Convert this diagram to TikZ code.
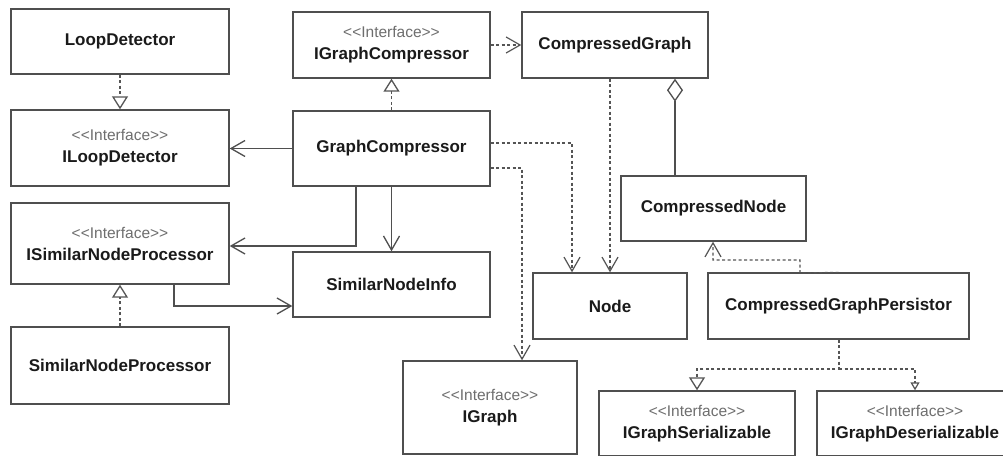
\documentclass[tikz,border=0pt]{standalone}
\usepackage{fontspec}
\setmainfont{Liberation Sans}
\usetikzlibrary{arrows.meta}
\definecolor{linec}{HTML}{4F4F4F}
\definecolor{dashc}{HTML}{555555}
\definecolor{txtc}{HTML}{1A1A1A}
\definecolor{stc}{HTML}{6E6E6E}
\newcommand\stereotxt{{\mdseries\color{stc}\fontsize{15.5}{22}\selectfont <{}<Interface>{}>}}
\begin{document}
\begin{tikzpicture}[x=1pt,y=-1pt,
  cls/.style={draw=linec, line width=1.4pt, fill=white, inner sep=0pt, text=txtc,
    font=\fontsize{17}{22}\selectfont\bfseries, align=center},
  conn/.style={draw=linec, line width=1.3pt},
  dsh/.style={draw=dashc, line width=1.1pt, dash pattern=on 3pt off 2.5pt},
  dep/.style={conn, dsh, -{Straight Barb[length=14pt,width=16pt,line width=1.2pt]}},
  assoc/.style={conn, -{Straight Barb[length=14pt,width=16pt,line width=1.3pt]}},
  real/.style={conn, dsh, -{Triangle[open,length=13pt,width=16pt,line width=1.3pt]}},
  realsmall/.style={conn, dsh, -{Triangle[open,length=8pt,width=9pt,line width=1.2pt]}},
  aggr/.style={conn, -{Diamond[open,length=23pt,width=16pt,line width=1.3pt]}}
]
\useasboundingbox (0,0) rectangle (1003,455);
\clip (0,0) rectangle (1003,455);
\fill[white] (0,0) rectangle (1003,455);

% classes
\node[cls, minimum width=218pt, minimum height=65pt] (LD)   at (120,41.5)  {LoopDetector};
\node[cls, minimum width=218pt, minimum height=76pt] (ILD)  at (120,148)   {\stereotxt\\ILoopDetector};
\node[cls, minimum width=197pt, minimum height=66pt] (IGC)  at (391.5,45)  {\stereotxt\\IGraphCompressor};
\node[cls, minimum width=197pt, minimum height=75pt] (GC)   at (391.5,148.5) {GraphCompressor};
\node[cls, minimum width=186pt, minimum height=66pt] (CG)   at (615,45)    {CompressedGraph};
\node[cls, minimum width=185pt, minimum height=65pt] (CN)   at (713.5,208.5) {CompressedNode};
\node[cls, minimum width=218pt, minimum height=81pt] (ISNP) at (120,243.5) {\stereotxt\\ISimilarNodeProcessor};
\node[cls, minimum width=218pt, minimum height=77pt] (SNP)  at (120,365.5) {SimilarNodeProcessor};
\node[cls, minimum width=197pt, minimum height=65pt] (SNI)  at (391.5,284.5) {SimilarNodeInfo};
\node[cls, minimum width=154pt, minimum height=66pt] (ND)   at (610,306)   {Node};
\node[cls, minimum width=174pt, minimum height=93pt] (IG)   at (490,407.5) {\stereotxt\\IGraph};
\node[cls, minimum width=261pt, minimum height=66pt] (CGP)  at (838.5,306) {CompressedGraphPersistor};
\node[cls, minimum width=196pt, minimum height=65pt] (IGS)  at (697,423.5) {\stereotxt\\IGraphSerializable};
\node[cls, minimum width=196pt, minimum height=65pt] (IGD)  at (915,423.5) {\stereotxt\\IGraphDeserializable};

% connectors
\draw[real] (LD.south) -- (ILD.north);
\draw[real] (GC.north) -- (IGC.north |- IGC.south);
\draw[dep] (IGC.east) -- (CG.west);
\draw[assoc] (GC.west) -- (ILD.east |- GC.west);
\draw[assoc] (GC.south -| 356,0) -- (356,246) -- (ISNP.east |- 0,246);
\draw[assoc] (GC.south) -- (SNI.north);
\draw[dep] (GC.east |- 0,143) -- (572,143) -- (ND.north -| 572,0);
\draw[dep] (GC.east |- 0,168) -- (522,168) -- (IG.north -| 522,0);
\draw[dep] (CG.south -| 610,0) -- (ND.north);
\draw[aggr] (CN.north -| 675,0) -- (CG.south -| 675,0);
\draw[assoc] (ISNP.south -| 174,0) -- (174,306) -- (SNI.west |- 0,306);
\draw[real] (SNP.north) -- (ISNP.south);
\draw[dep] (CGP.north) -- (800,273) -- (800,260) -- (713,260) -- (CN.south -| 713,0);
\coordinate (J) at (839,369);
\draw[real] (CGP.south -| J) -- (J) -- (697,369) -- (IGS.north);
\draw[realsmall] (J) -- (915,369) -- (IGD.north);
\end{tikzpicture}
\end{document}
